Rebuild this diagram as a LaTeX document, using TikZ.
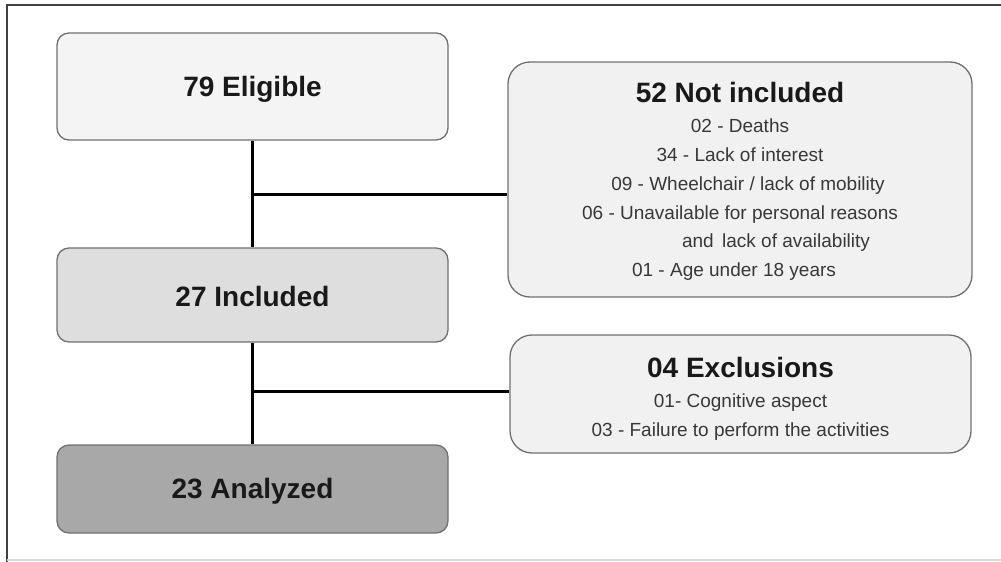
\documentclass[tikz,border=0pt]{standalone}
\usepackage{fontspec}
\setmainfont{Liberation Sans}
\usepackage{tikz}

\definecolor{boxline}{HTML}{707070}
\definecolor{fillone}{HTML}{F4F4F4}
\definecolor{filltwo}{HTML}{DEDEDE}
\definecolor{fillthree}{HTML}{A8A8A8}
\definecolor{sidefill}{HTML}{F1F1F1}
\definecolor{listgray}{HTML}{383838}

\newcommand{\headfont}{\fontsize{28}{34}\selectfont\bfseries\color{black!90}}
\newcommand{\listfont}{\fontsize{19}{28.8}\selectfont\color{listgray}}

\begin{document}
\begin{tikzpicture}[x=1pt, y=-1pt,
	thick,
	main box/.style={rectangle, rounded corners=12pt, draw=boxline, line width=1.3pt,
		minimum width=391pt, inner sep=0pt, font=\headfont},
	side box/.style={rectangle, rounded corners=22pt, draw=boxline, line width=1.3pt,
		fill=sidefill, inner sep=0pt, align=center, font=\listfont},
	link/.style={line width=3pt, black}]
	
	\useasboundingbox (0,0) rectangle (1001,562);
	\draw[black!75, line width=1.5pt] (7,562) -- (7,5) -- (1001,5);
	\draw[black!15, line width=1.5pt] (7,560) -- (1001,560);
	
	\node[main box, fill=fillone, minimum height=107pt] (elig) at (252.5,86.5) {\rule{0pt}{25pt}79 Eligible};
	\node[main box, fill=filltwo, minimum height=94pt] (incl) at (252.5,295) {\rule{0pt}{24pt}27 Included};
	\node[main box, fill=fillthree, minimum height=88pt] (anal) at (252.5,489) {\rule{0pt}{24pt}23 Analyzed};
	
	\node[side box, minimum width=464pt, minimum height=235pt] (notinc) at (740,179.5)
	{{\headfont\rule{0pt}{24.5pt}52 Not included}\\[1pt]
		02 - Deaths\\
		34 - Lack of interest\\
		\hspace*{16pt}09 - Wheelchair / lack of mobility\\
		06 - Unavailable for personal reasons\\
		\hspace*{72pt}and\, lack of availability\\
		01 - Age under 18 years\hspace*{12pt}};
	\node[side box, minimum width=461pt, minimum height=118pt] (excl) at (740.5,394)
	{{\headfont\rule{0pt}{30pt}04 Exclusions}\\[1pt]
		01- Cognitive aspect\hspace*{8pt}\\
		03 - Failure to perform the activities};
	
	\coordinate (j1) at (252.5,194);
	\coordinate (j2) at (252.5,391);
	
	\draw[link] (elig) -- (incl);
	\draw[link] (incl) -- (anal);
	\draw[link] (j1) -- (j1 -| notinc.west);
	\draw[link] (j2) -- (j2 -| excl.west);
\end{tikzpicture}
\end{document}
